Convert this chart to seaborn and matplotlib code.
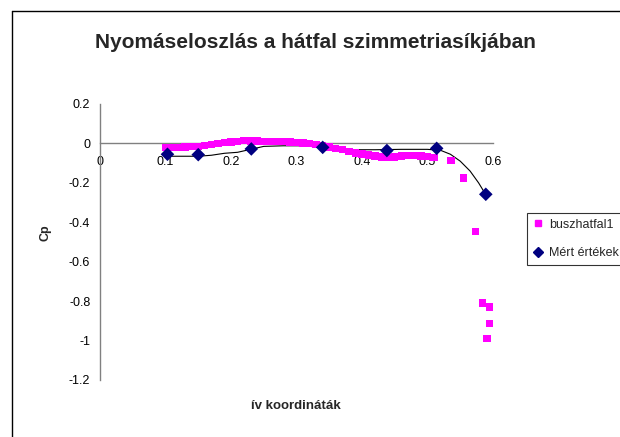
import numpy as np
import pandas as pd
import matplotlib
matplotlib.use("Agg")
import matplotlib.pyplot as plt
from matplotlib.lines import Line2D
import seaborn as sns

# Simulated pressure coefficient along the rear wall (dense band + edge points)
sim_x = [0.10, 0.11, 0.12, 0.13, 0.14, 0.15, 0.16, 0.17, 0.18, 0.19,
         0.20, 0.21, 0.22, 0.23, 0.24, 0.25, 0.26, 0.27, 0.28, 0.29,
         0.30, 0.31, 0.32, 0.33, 0.34, 0.35, 0.36, 0.37, 0.38, 0.39,
         0.40, 0.41, 0.42, 0.43, 0.44, 0.45, 0.46, 0.47, 0.48, 0.49,
         0.50, 0.51, 0.536, 0.555, 0.573, 0.584, 0.595, 0.595, 0.591]
sim_cp = [-0.020, -0.020, -0.020, -0.018, -0.015, -0.015, -0.010, -0.005, 0.000, 0.005,
          0.008, 0.010, 0.015, 0.012, 0.012, 0.010, 0.010, 0.010, 0.010, 0.008,
          0.005, 0.002, 0.000, -0.005, -0.012, -0.018, -0.025, -0.032, -0.040, -0.048,
          -0.054, -0.058, -0.064, -0.068, -0.070, -0.068, -0.064, -0.060, -0.062, -0.064,
          -0.066, -0.072, -0.086, -0.175, -0.447, -0.810, -0.830, -0.912, -0.990]

# Measured values
meas_x = [0.103, 0.150, 0.231, 0.340, 0.438, 0.514, 0.589]
meas_cp = [-0.055, -0.057, -0.028, -0.020, -0.036, -0.025, -0.258]

# Fitted curve through the measurements
fit_x = [0.10, 0.15, 0.17, 0.19, 0.21, 0.23, 0.25, 0.28, 0.31, 0.34,
         0.36, 0.39, 0.42, 0.46, 0.50, 0.52, 0.535, 0.55, 0.565, 0.578, 0.589]
fit_cp = [-0.065, -0.065, -0.060, -0.050, -0.045, -0.030, -0.015, -0.012, -0.012, -0.020,
          -0.032, -0.032, -0.032, -0.030, -0.030, -0.035, -0.055, -0.090, -0.140, -0.200, -0.260]

x_ticks = [0, 0.1, 0.2, 0.3, 0.4, 0.5, 0.6]
x_labels = ["0", "0.1", "0.2", "0.3", "0.4", "0.5", "0.6"]
y_ticks = [0.2, 0, -0.2, -0.4, -0.6, -0.8, -1, -1.2]
y_labels = ["0.2", "0", "-0.2", "-0.4", "-0.6", "-0.8", "-1", "-1.2"]

sim_df = pd.DataFrame({"x": sim_x, "cp": sim_cp})
meas_df = pd.DataFrame({"x": meas_x, "cp": meas_cp})
fit_df = pd.DataFrame({"x": fit_x, "cp": fit_cp})

sns.set_style("white")
plt.rcParams["font.family"] = ["Liberation Sans", "DejaVu Sans"]

PINK = "#FF00FF"
NAVY = "#000080"
GRAY = "#808080"

fig = plt.figure(figsize=(6.2, 4.37), dpi=100)
ax = fig.add_axes([100 / 620, 1 - 380 / 437, 393 / 620, 276 / 437])

sns.lineplot(data=fit_df, x="x", y="cp", ax=ax, color="black", linewidth=0.8,
             sort=False, estimator=None, legend=False, zorder=2)
sns.scatterplot(data=sim_df, x="x", y="cp", ax=ax, marker="s", s=28, color=PINK,
                edgecolor="none", linewidth=0, legend=False, zorder=3)
sns.scatterplot(data=meas_df, x="x", y="cp", ax=ax, marker="D", s=48, color=NAVY,
                edgecolor="none", linewidth=0, legend=False, zorder=4)

ax.set_xlim(0, 0.6)
ax.set_ylim(-1.2, 0.2)
ax.set_xticks(x_ticks)
ax.set_xticklabels(x_labels)
ax.set_yticks(y_ticks)
ax.set_yticklabels(y_labels)

for side in ("top", "right"):
    ax.spines[side].set_visible(False)
ax.spines["bottom"].set_position(("data", 0))
ax.spines["bottom"].set_color(GRAY)
ax.spines["left"].set_color(GRAY)
ax.spines["bottom"].set_linewidth(1.0)
ax.spines["left"].set_linewidth(1.0)
ax.tick_params(axis="both", which="major", direction="out", length=4, width=0.8,
               color="black", labelsize=9, labelcolor="black", pad=3)
ax.tick_params(axis="x", pad=5)
ax.set_xlabel("")
ax.set_ylabel("")

fig.text(315 / 620, 1 - 43 / 437, "Nyomáseloszlás a hátfal szimmetriasíkjában",
         ha="center", va="center", fontsize=15, fontweight="bold")
fig.text(45 / 620, 1 - 233 / 437, "Cp", rotation=90, ha="center", va="center",
         fontsize=9, fontweight="bold")
fig.text(296 / 620, 1 - 406 / 437, "ív koordináták", ha="center", va="center",
         fontsize=9.5, fontweight="bold")

handles = [
    Line2D([], [], linestyle="none", marker="s", markersize=5, color=PINK),
    Line2D([], [], linestyle="none", marker="D", markersize=5.5, color=NAVY),
]
leg = fig.legend(handles, ["buszhatfal1", "Mért értékek"], loc="upper left",
                 bbox_to_anchor=(527 / 620, 1 - 213 / 437), frameon=True,
                 fancybox=False, edgecolor="black", fontsize=9, handlelength=0.8,
                 handletextpad=0.5, labelspacing=1.3, borderpad=0.45,
                 borderaxespad=0)
leg.get_frame().set_linewidth(0.8)

# chart area border
fig.add_artist(Line2D([11.5 / 620, 1.0], [1 - 10.5 / 437, 1 - 10.5 / 437],
                      color="black", linewidth=1.0, transform=fig.transFigure))
fig.add_artist(Line2D([11.5 / 620, 11.5 / 620], [0.0, 1 - 10.5 / 437],
                      color="black", linewidth=1.0, transform=fig.transFigure))

fig.savefig("out.png", dpi=100)
